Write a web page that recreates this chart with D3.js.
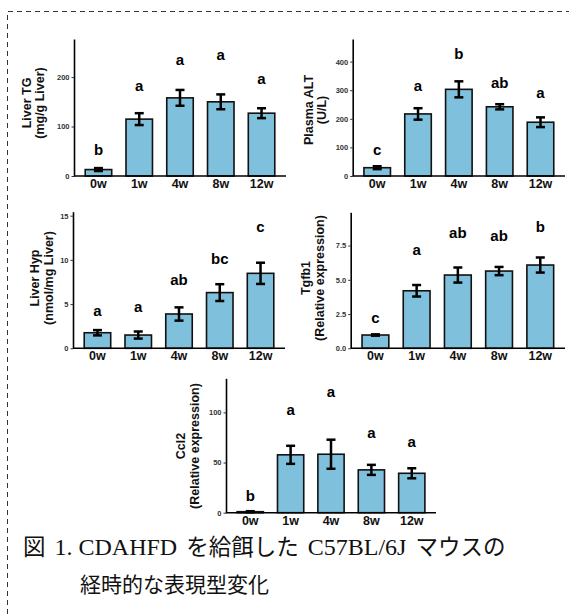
<!DOCTYPE html>
<html>
<head>
<meta charset="utf-8">
<script src="https://cdn.jsdelivr.net/npm/d3@7"></script>
<style>
  body { margin: 0; background: #fff; }
  svg { display: block; }
</style>
</head>
<body>
<div id="chart"></div>
<script>
var weeks = ['0w', '1w', '4w', '8w', '12w'];

// Liver TG (mg/g Liver)
var tgMean = [13, 115, 158, 150, 127];
var tgErr = [3, 12, 16, 15, 10];
var tgLetters = ['b', 'a', 'a', 'a', 'a'];
var tgLetterAt = [42, 172, 224, 234, 186];
var tgTicks = [0, 100, 200];

// Plasma ALT (U/L)
var altMean = [29, 217, 303, 242, 188];
var altErr = [5, 20, 28, 9, 17];
var altLetters = ['c', 'a', 'b', 'ab', 'a'];
var altLetterAt = [73, 297, 409, 308, 273];
var altTicks = [0, 100, 200, 300, 400];

// Liver Hyp (nmol/mg Liver)
var hypMean = [1.76, 1.5, 3.88, 6.3, 8.48];
var hypErr = [0.3, 0.4, 0.75, 0.95, 1.2];
var hypLetters = ['a', 'a', 'ab', 'bc', 'c'];
var hypLetterAt = [3.7, 4.1, 7.2, 9.55, 13.1];
var hypTicks = [0, 5, 10, 15];

// Tgfb1 (relative expression)
var tgfMean = [0.97, 4.2, 5.35, 5.64, 6.08];
var tgfErr = [0.05, 0.42, 0.55, 0.3, 0.55];
var tgfLetters = ['c', 'a', 'ab', 'ab', 'b'];
var tgfLetterAt = [1.82, 6.8, 8.03, 7.85, 8.47];
var tgfTicks = [0, 2.5, 5, 7.5];

// Ccl2 (relative expression)
var cclMean = [1, 57.7, 58.3, 42.7, 39.3];
var cclErr = [0.5, 9, 14.5, 5, 5];
var cclLetters = ['b', 'a', 'a', 'a', 'a'];
var cclLetterAt = [12, 97.7, 115.3, 74.3, 65.3];
var cclTicks = [0, 50, 100];

// caption pieces: [text, is latin]
var captionLine1 = [['図', false], ['1. CDAHFD', true], ['を給餌した', false], ['C57BL/6J', true], ['マウスの', false]];
var captionLine2 = '経時的な表現型変化';

var width = 569, height = 614;
var barColor = '#7fc0dc';

var svg = d3.select('#chart').append('svg')
  .attr('width', width)
  .attr('height', height);

svg.append('rect').attr('width', width).attr('height', height).attr('fill', '#fff');

// dashed frame (continues past the right and bottom edges)
svg.append('path')
  .attr('d', 'M7.5,' + height + 'V11.5H' + width)
  .attr('fill', 'none')
  .attr('stroke', '#333')
  .attr('stroke-width', 1)
  .attr('stroke-dasharray', '5,4');

var panels = [
  { mean: tgMean, err: tgErr, letters: tgLetters, letterAt: tgLetterAt, ticks: tgTicks, max: 277,
    title: ['Liver TG', '(mg/g Liver)'], titleX: [31, 44], titleY: 103,
    left: 74, right: 286, top: 39, bottom: 176, fmt: d3.format('d') },
  { mean: altMean, err: altErr, letters: altLetters, letterAt: altLetterAt, ticks: altTicks, max: 479,
    title: ['Plasma ALT', '(U/L)'], titleX: [313, 326], titleY: 110,
    left: 352.7, right: 565, top: 39, bottom: 176, fmt: d3.format('d') },
  { mean: hypMean, err: hypErr, letters: hypLetters, letterAt: hypLetterAt, ticks: hypTicks, max: 15.45,
    title: ['Liver Hyp', '(nmol/mg Liver)'], titleX: [39, 53], titleY: 278,
    left: 73, right: 285, top: 211.7, bottom: 348.3, fmt: d3.format('d') },
  { mean: tgfMean, err: tgfErr, letters: tgfLetters, letterAt: tgfLetterAt, ticks: tgfTicks, max: 9.93,
    title: ['Tgfb1', '(Relative expression)'], titleX: [310, 324], titleY: 278,
    left: 350.7, right: 565, top: 212.3, bottom: 348.3, fmt: d3.format('.1f') },
  { mean: cclMean, err: cclErr, letters: cclLetters, letterAt: cclLetterAt, ticks: cclTicks, max: 134,
    title: ['Ccl2', '(Relative expression)'], titleX: [185, 199], titleY: 446,
    left: 226, right: 436, top: 378.3, bottom: 512.7, fmt: d3.format('d') }
];

panels.forEach(function(p) { drawPanel(p); });

function drawPanel(p) {
  var x = d3.scaleBand().domain(weeks)
    .range([p.left, p.right])
    .paddingInner(0.35)
    .paddingOuter(0.275);
  var y = d3.scaleLinear().domain([0, p.max]).range([p.bottom, p.top]);

  var rows = weeks.map(function(w, i) {
    return { week: w, mean: p.mean[i], err: p.err[i], letter: p.letters[i], at: p.letterAt[i] };
  });

  var g = svg.append('g');

  // bars
  g.selectAll('.bar')
    .data(rows)
    .enter().append('rect')
    .attr('class', 'bar')
    .attr('x', function(d) { return x(d.week); })
    .attr('y', function(d) { return y(d.mean); })
    .attr('width', x.bandwidth())
    .attr('height', function(d) { return y(0) - y(d.mean); })
    .attr('fill', barColor)
    .attr('stroke', '#111')
    .attr('stroke-width', 1.6);

  // error bars
  var cap = 4.5;
  var cx = function(d) { return x(d.week) + x.bandwidth() / 2; };
  var eb = g.selectAll('.err')
    .data(rows)
    .enter().append('g')
    .attr('class', 'err')
    .attr('stroke', '#000')
    .attr('stroke-width', 2.5);
  eb.append('line')
    .attr('x1', cx).attr('x2', cx)
    .attr('y1', function(d) { return y(d.mean + d.err); })
    .attr('y2', function(d) { return y(Math.max(0, d.mean - d.err)); });
  eb.append('line')
    .attr('x1', function(d) { return cx(d) - cap; })
    .attr('x2', function(d) { return cx(d) + cap; })
    .attr('y1', function(d) { return y(d.mean + d.err); })
    .attr('y2', function(d) { return y(d.mean + d.err); });
  eb.append('line')
    .attr('x1', function(d) { return cx(d) - cap; })
    .attr('x2', function(d) { return cx(d) + cap; })
    .attr('y1', function(d) { return y(Math.max(0, d.mean - d.err)); })
    .attr('y2', function(d) { return y(Math.max(0, d.mean - d.err)); });

  // significance letters
  g.selectAll('.letter')
    .data(rows)
    .enter().append('text')
    .attr('class', 'letter')
    .attr('x', cx)
    .attr('y', function(d) { return y(d.at); })
    .attr('text-anchor', 'middle')
    .style('font-family', 'Liberation Sans, Arial, sans-serif')
    .style('font-weight', 'bold')
    .style('font-size', '15px')
    .style('fill', '#000')
    .text(function(d) { return d.letter; });

  // y axis
  var ya = g.append('g')
    .attr('transform', 'translate(' + p.left + ',0)')
    .call(d3.axisLeft(y).tickValues(p.ticks).tickFormat(p.fmt).tickSize(2.5).tickSizeOuter(0).tickPadding(2));
  ya.select('.domain').attr('stroke', '#000').attr('stroke-width', 1.6);
  ya.selectAll('.tick line').attr('stroke', '#333').attr('stroke-width', 1);
  ya.selectAll('.tick text')
    .style('font-family', 'Liberation Sans, Arial, sans-serif')
    .style('font-weight', 'bold')
    .style('font-size', '7.5px')
    .style('fill', '#333');

  // x axis
  var xa = g.append('g')
    .attr('transform', 'translate(0,' + p.bottom + ')')
    .call(d3.axisBottom(x).tickSize(0).tickSizeOuter(0).tickPadding(3));
  xa.select('.domain').attr('stroke', '#000').attr('stroke-width', 1.6)
    .attr('d', 'M' + p.left + ',0H' + p.right);
  xa.selectAll('.tick text')
    .style('font-family', 'Liberation Sans, Arial, sans-serif')
    .style('font-weight', 'bold')
    .style('font-size', '12.5px')
    .style('fill', '#111');

  // y axis title, two lines
  p.title.forEach(function(t, i) {
    g.append('text')
      .attr('transform', 'translate(' + p.titleX[i] + ',' + p.titleY + ') rotate(-90)')
      .attr('text-anchor', 'middle')
      .style('font-family', 'Liberation Sans, Arial, sans-serif')
      .style('font-weight', 'bold')
      .style('font-size', '12.5px')
      .style('fill', '#111')
      .text(t);
  });
}

// caption: latin in a serif face, japanese in a gothic face
var serif = 'Liberation Serif, Times New Roman, serif';
var gothic = 'Noto Sans CJK JP, sans-serif';
var line1 = svg.append('text').attr('x', 23).attr('y', 555).style('fill', '#111');
line1.selectAll('tspan')
  .data(captionLine1)
  .enter().append('tspan')
  .attr('dx', function(d, i) { return i === 0 ? 0 : 9; })
  .style('font-family', function(d) { return d[1] ? serif : gothic; })
  .style('font-size', function(d) { return d[1] ? '24px' : '22.5px'; })
  .text(function(d) { return d[0]; });
svg.append('text').attr('x', 80).attr('y', 592)
  .style('fill', '#111')
  .style('font-family', gothic)
  .style('font-size', '21px')
  .text(captionLine2);
</script>
</body>
</html>
